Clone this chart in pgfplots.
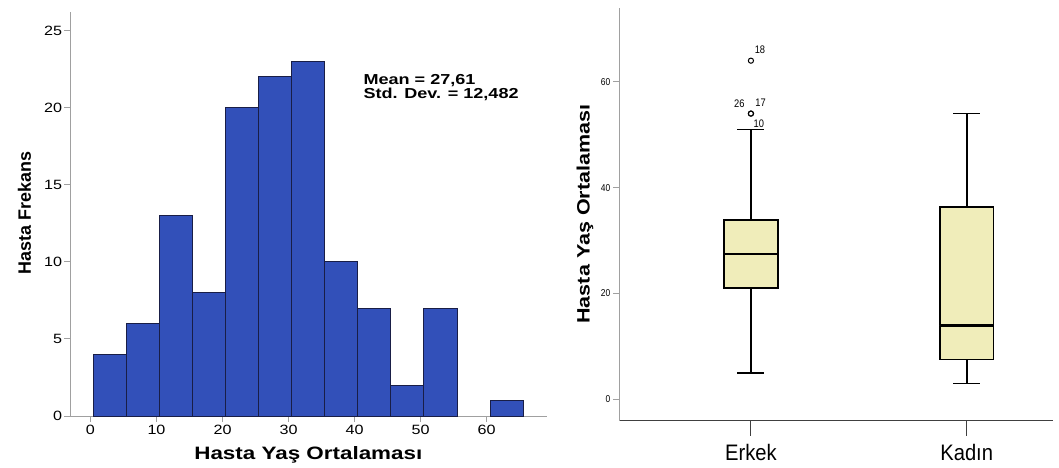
\documentclass[border=0pt]{standalone}
\usepackage{pgfplots}
\pgfplotsset{compat=1.18}
\usepgfplotslibrary{statistics}
\usepackage{fontspec}
\setmainfont{Liberation Sans}
\definecolor{barblue}{RGB}{50,80,185}
\definecolor{baredge}{RGB}{25,30,70}
\definecolor{boxfill}{RGB}{240,237,186}
\definecolor{axgray}{RGB}{160,160,160}
\begin{document}
\begin{tikzpicture}
\useasboundingbox (0bp,0bp) rectangle (1059bp,468bp);
% ---------------- Histogram ----------------
\begin{axis}[
  at={(70bp,52bp)}, anchor=south west,
  scale only axis, width=476.7bp, height=404bp,
  xmin=-3.1, xmax=69.1, ymin=0, ymax=26.2,
  axis x line*=bottom, axis y line*=left,
  axis line style={axgray, line width=0.9bp},
  xtick={0,10,...,60}, ytick={0,5,...,25},
  tick style={axgray, line width=0.9bp},
  major tick length=6bp, tick align=outside,
  /pgf/number format/assume math mode=true,
  tick label style={font=\fontsize{13.5}{15}\selectfont, xscale=1.2},
  yticklabel style={xshift=2bp},
  clip=false,
]
\addplot[ybar interval, fill=barblue, draw=baredge, line width=0.8bp]
  coordinates {(0.5,4)(5.5,6)(10.5,13)(15.5,8)(20.5,20)(25.5,22)(30.5,23)(35.5,10)(40.5,7)(45.5,2)(50.5,7)(55.5,7)};
\addplot[ybar interval, fill=barblue, draw=baredge, line width=0.8bp]
  coordinates {(60.5,1)(65.5,1)};
\node[anchor=base west, font=\bfseries\fontsize{14.5}{16}\selectfont, inner sep=0pt]
  at (axis cs:41.33,21.52) {\scalebox{1.25}[1]{Mean = 27,61}};
\node[anchor=base west, font=\bfseries\fontsize{14.5}{16}\selectfont, inner sep=0pt]
  at (axis cs:41.33,20.59) {\scalebox{1.25}[1]{Std. Dev. = 12,482}};
\node[anchor=center, font=\bfseries\fontsize{18}{20}\selectfont]
  at (rel axis cs:0.5,-0.0965) {\scalebox{1.25}[1]{Hasta Yaş Ortalaması}};
\node[anchor=center, rotate=90, font=\bfseries\fontsize{18}{20}\selectfont]
  at (rel axis cs:-0.0955,0.5025) {Hasta Frekans};
\end{axis}
% ---------------- Boxplot ----------------
\begin{axis}[
  at={(619.3bp,47.3bp)}, anchor=south west,
  scale only axis, width=433.7bp, height=412.4bp,
  xmin=0.39, xmax=2.4, ymin=-4.04, ymax=73.9,
  axis x line*=bottom, axis y line*=left,
  x axis line style={black!75, line width=1bp},
  y axis line style={axgray, line width=1bp},
  xtick={1,2}, xticklabels={Erkek,Kadın},
  ytick={0,20,40,60},
  xtick style={draw=none},
  ytick style={axgray, line width=0.9bp},
  major tick length=6bp, tick align=outside,
  /pgf/number format/assume math mode=true,
  yticklabel style={font=\fontsize{10}{12}\selectfont, xscale=0.85},
  xticklabel style={font=\fontsize{22.5}{24}\selectfont, xscale=0.9, anchor=center, yshift=-26bp},
  boxplot/draw direction=y,
  boxplot/every box/.style={line width=1.6bp},
  boxplot/every whisker/.style={line width=1.6bp},
  boxplot/every median/.style={line width=2.6bp},
  clip=false,
]
\addplot[boxplot prepared={draw position=1, lower whisker=5, lower quartile=21,
    median=27.5, upper quartile=33.9, upper whisker=51,
    box extend=0.25, whisker extend=0.125},
  draw=black, fill=boxfill, line width=1.6bp, solid,
  mark=o, mark size=2.6bp, mark options={draw=black, fill=none, line width=1bp}]
  table[row sep=\\, y index=0] {54\\54\\64\\};
\addplot[boxplot prepared={draw position=2, lower whisker=3, lower quartile=7.55,
    median=14, upper quartile=36.4, upper whisker=54,
    box extend=0.25, whisker extend=0.125},
  draw=black, fill=boxfill, line width=1.6bp, solid, mark=none]
  coordinates {};
\draw[black!75, line width=1bp] (axis cs:1,-4.04) -- ++(0bp,-15bp);
\draw[black!75, line width=1bp] (axis cs:2,-4.04) -- ++(0bp,-15bp);
\begin{scope}[every node/.style={font=\fontsize{11}{12}\selectfont, xscale=0.85, inner sep=0pt, anchor=center}]
\node at (axis cs:1.042,66.0) {18};
\node at (axis cs:0.946,55.9) {26};
\node at (axis cs:1.045,56.0) {17};
\node at (axis cs:1.037,52.0) {10};
\end{scope}
\node[anchor=center, rotate=90, font=\bfseries\fontsize{18}{20}\selectfont]
  at (rel axis cs:-0.079,0.501) {\scalebox{1.2}[1]{Hasta Yaş Ortalaması}};
\end{axis}
\end{tikzpicture}
\end{document}
